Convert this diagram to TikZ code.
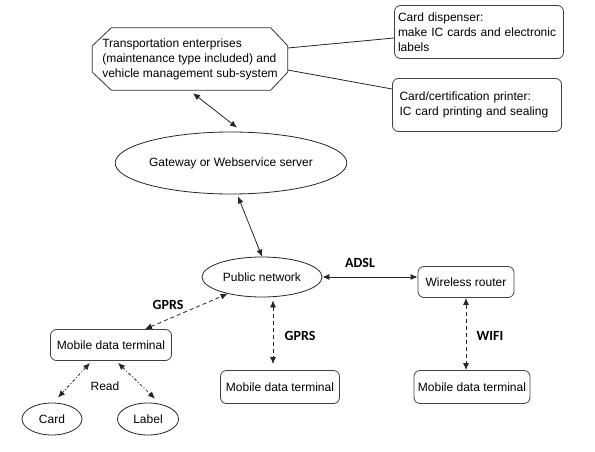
\documentclass[tikz,border=0pt]{standalone}
\usepackage{fontspec}
\setmainfont{Liberation Sans}
\newfontfamily\linkfont{Carlito}
\usetikzlibrary{shapes.geometric,arrows.meta}

\begin{document}
\begin{tikzpicture}[
    x=1pt, y=-1pt,
    font=\fontsize{12}{15}\selectfont,
    enterprise node/.style={
        rectangle,
        minimum width=195pt,
        minimum height=62pt,
        inner sep=2pt,
        align=left
    },
    outline/.style={
        draw=black!80,
        line width=0.8pt
    },
    device box/.style={
        rectangle,
        rounded corners=6pt,
        draw=black!75,
        line width=0.8pt,
        inner sep=0pt
    },
    server ellipse/.style={
        ellipse,
        draw=black!85,
        line width=0.8pt,
        inner sep=0pt
    },
    link/.style={
        <->,
        >={Latex[length=7pt,width=6pt]},
        line width=0.8pt,
        black!85
    },
    wireless link/.style={
        link,
        dash pattern=on 4pt off 3pt
    },
    read link/.style={
        link,
        dash pattern=on 3pt off 2pt on 1pt off 2pt
    },
    link label/.style={
        font=\linkfont\fontsize{14}{16}\selectfont\bfseries
    }
]

\useasboundingbox (0,0) rectangle (595,452);

%% --- Upper level ---
\node[enterprise node] (ent) at (190,59) {Transportation enterprises\\(maintenance type included) and\\vehicle management sub-system};
\draw[outline] ([xshift=19pt]ent.north west) -- ([xshift=-17pt]ent.north east)
    -- ([yshift=-18pt]ent.north east) -- ([yshift=18pt]ent.south east)
    -- ([xshift=-17pt]ent.south east) -- ([xshift=19pt]ent.south west)
    -- ([yshift=18pt]ent.south west) -- ([yshift=-18pt]ent.north west) -- cycle;
\node[device box, minimum width=169pt, minimum height=53pt, text width=162pt, align=left] (disp) at (479,32)
    {Card dispenser:\\make IC cards and electronic\\labels};
\node[device box, minimum width=169pt, minimum height=53pt, text width=155pt, align=left] (prn) at (477,105)
    {Card/certification printer:\\IC card printing and sealing};

%% --- Servers ---
\node[server ellipse, minimum width=203pt, minimum height=62pt] (gw) at (231,163) {Gateway or Webservice server};
\node[server ellipse, minimum width=120pt, minimum height=40pt] (pub) at (262,277) {Public network};

%% --- Terminals ---
\node[device box, minimum width=96pt, minimum height=31pt] (router) at (466,282) {Wireless router};
\node[device box, minimum width=121pt, minimum height=31pt] (mt1) at (111,345) {Mobile data terminal};
\node[device box, minimum width=119pt, minimum height=33pt] (mt2) at (280,387) {Mobile data terminal};
\node[device box, minimum width=116pt, minimum height=33pt] (mt3) at (472,387) {Mobile data terminal};

%% --- Card and label ---
\node[server ellipse, minimum width=60pt, minimum height=32pt] (card) at (52,419) {Card};
\node[server ellipse, minimum width=61pt, minimum height=32pt] (lbl) at (148,419) {Label};

%% --- Connections ---
\draw[line width=0.8pt, black!85] ([yshift=11pt]ent.east) -- ([yshift=-6pt]disp.west);
\draw[line width=0.8pt, black!85] ([yshift=-11pt]ent.east) -- ([yshift=16pt]prn.west);
\draw[link] ([xshift=3pt, yshift=-3pt]ent.south) -- ([xshift=6pt, yshift=4pt]gw.north);
\draw[link] ([xshift=7pt, yshift=-2pt]gw.south) -- (pub.north);
\draw[link] (pub.east) -- (pub.east -| router.west);
\draw[wireless link] ([xshift=34pt]mt1.north) -- (pub.206);
\draw[wireless link] ([xshift=11pt, yshift=-3pt]pub.south) -- ([xshift=-7pt, yshift=6pt]mt2.north);
\draw[wireless link] (router.south) -- (router.south |- mt3.north);
\draw[read link] ([xshift=-21pt, yshift=-2pt]mt1.south) -- ([xshift=6pt, yshift=5pt]card.north);
\draw[read link] ([xshift=7pt, yshift=-2pt]mt1.south) -- ([xshift=7pt, yshift=4pt]lbl.north);

%% --- Link labels ---
\node[link label] (gprs1) at (168,305) {GPRS};
\node[link label] (adsl) at (360,263) {ADSL};
\node[link label] (gprs2) at (300,336) {GPRS};
\node[link label] (wifi) at (490,336) {WIFI};
\node (read) at (105,386) {Read};

\end{tikzpicture}
\end{document}
